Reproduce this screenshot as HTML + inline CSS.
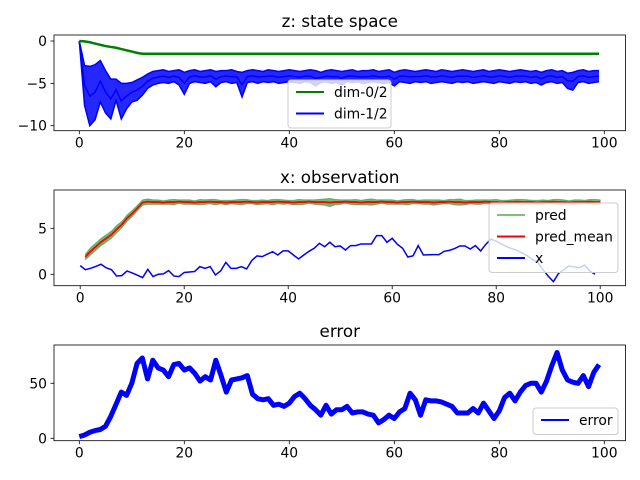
<!DOCTYPE html>
<html><head><meta charset="utf-8"><style>
html,body{margin:0;padding:0;background:#fff;}
svg{display:block;font-family:"DejaVu Sans","Liberation Sans",sans-serif;}
</style></head><body>
<svg id="fig" width="640" height="480" viewBox="0 0 640 480"></svg>
<script>
const xTicks=[0,20,40,60,80,100];
const p1YTicks=[0,-5,-10];
const p2YTicks=[0,5];
const p3YTicks=[0,50];
const dim0=[0,-0.05,-0.15,-0.3,-0.45,-0.6,-0.7,-0.8,-0.95,-1.1,-1.25,-1.4,-1.5,-1.5,-1.5,-1.5,-1.5,-1.5,-1.5,-1.5,-1.5,-1.5,-1.5,-1.5,-1.5,-1.5,-1.5,-1.5,-1.5,-1.5,-1.5,-1.5,-1.5,-1.5,-1.5,-1.5,-1.5,-1.5,-1.5,-1.5,-1.5,-1.5,-1.5,-1.5,-1.5,-1.5,-1.5,-1.5,-1.5,-1.5,-1.5,-1.5,-1.5,-1.5,-1.5,-1.5,-1.5,-1.5,-1.5,-1.5,-1.5,-1.5,-1.5,-1.5,-1.5,-1.5,-1.5,-1.5,-1.5,-1.5,-1.5,-1.5,-1.5,-1.5,-1.5,-1.5,-1.5,-1.5,-1.5,-1.5,-1.5,-1.5,-1.5,-1.5,-1.5,-1.5,-1.5,-1.5,-1.5,-1.5,-1.5,-1.5,-1.5,-1.5,-1.5,-1.5,-1.5,-1.5,-1.5,-1.5];
const dim1Upper=[0,-2.9,-3.0,-2.8,-2.3,-3.5,-4.5,-4.5,-5.0,-5.0,-4.9,-4.6,-4.3,-3.9,-3.6,-3.5,-3.4,-3.6,-3.5,-3.4,-3.7,-3.5,-3.4,-3.6,-3.5,-3.4,-3.6,-3.5,-3.5,-3.4,-3.6,-3.7,-3.5,-3.4,-3.5,-3.6,-3.4,-3.5,-3.6,-3.5,-3.4,-3.5,-3.6,-3.5,-3.4,-3.5,-3.7,-3.5,-3.4,-3.5,-3.6,-3.5,-3.4,-3.6,-3.5,-3.5,-3.4,-3.6,-3.5,-3.4,-3.7,-3.5,-3.4,-3.5,-3.6,-3.5,-3.4,-3.5,-3.6,-3.4,-3.5,-3.6,-3.5,-3.4,-3.5,-3.6,-3.5,-3.4,-3.6,-3.5,-3.4,-3.5,-3.6,-3.5,-3.4,-3.5,-3.6,-3.5,-3.7,-3.5,-3.4,-3.6,-3.5,-3.8,-3.7,-3.5,-3.4,-3.6,-3.5,-3.5];
const dim1Lower=[0,-7.6,-10,-9.3,-7.2,-8.5,-9.2,-7.0,-9.2,-8.0,-7.2,-7.0,-6.4,-5.6,-5.2,-5.0,-4.9,-5.0,-4.8,-5.2,-6.3,-5.0,-4.8,-4.9,-5.0,-4.8,-5.4,-4.9,-4.8,-5.0,-4.9,-6.6,-4.9,-4.8,-5.0,-4.8,-4.9,-4.8,-5.0,-4.9,-4.8,-4.9,-5.0,-4.8,-4.9,-5.3,-4.9,-4.8,-5.0,-4.9,-5.2,-4.8,-4.9,-4.8,-5.0,-4.9,-4.8,-4.9,-5.0,-4.9,-5.3,-4.8,-4.9,-5.0,-4.8,-4.9,-4.8,-5.0,-4.9,-4.8,-4.9,-5.0,-4.8,-4.9,-4.8,-5.0,-4.9,-4.8,-4.9,-5.0,-4.8,-4.9,-5.0,-4.8,-4.9,-4.8,-5.0,-4.9,-5.2,-4.9,-4.8,-5.0,-4.9,-5.6,-5.8,-4.9,-4.8,-5.0,-4.9,-4.8];
const xObs=[0.94,0.5,0.65,0.85,1.09,0.7,0.5,-0.18,-0.14,0.36,0.15,-0.1,-0.36,0.54,-0.25,0.0,0.04,0.4,-0.18,-0.25,0.2,0.25,0.3,0.83,0.65,0.83,-0.07,0.36,1.3,0.65,0.65,0.83,0.58,1.5,2.0,1.92,2.2,2.46,2.1,2.54,2.54,2.1,1.67,2.1,2.5,2.83,3.37,3.0,3.48,3.0,3.08,2.64,3.12,3.12,3.3,3.3,3.3,4.2,4.2,3.48,3.91,3.26,2.83,1.88,2.0,3.12,2.1,2.12,2.14,2.14,2.5,2.6,2.8,3.08,3.08,2.75,3.12,2.54,3.26,3.84,3.6,3.3,3.0,2.8,2.6,2.3,2.0,1.6,1.3,0.5,-0.2,-0.8,0.1,0.5,0.9,0.8,0.72,1.0,0.36,0.0];
const predMean=[1.9,2.5,3.0,3.5,3.9,4.3,4.9,5.4,6.1,6.6,7.2,7.8,7.9,7.85,7.85,7.8,7.85,7.85,7.9,7.85,7.85,7.8,7.85,7.85,7.9,7.85,7.85,7.8,7.85,7.85,7.85,7.9,7.85,7.8,7.85,7.85,7.85,7.9,7.85,7.85,7.8,7.85,7.85,7.9,7.85,7.85,7.85,7.8,7.85,7.85,7.9,7.85,7.85,7.8,7.85,7.85,7.85,7.9,7.85,7.85,7.8,7.85,7.85,7.9,7.85,7.85,7.85,7.8,7.85,7.85,7.9,7.85,7.85,7.8,7.85,7.85,7.85,7.9,7.85,7.85,7.8,7.85,7.85,7.9,7.85,7.85,7.85,7.8,7.85,7.85,7.9,7.85,7.85,7.8,7.85,7.85,7.85,7.9,7.85,7.85];
const predSpread=[0.3,0.4,0.4,0.4,0.4,0.4,0.4,0.35,0.35,0.35,0.3,0.3,0.3,0.25,0.25,0.2,0.25,0.3,0.2,0.25,0.25,0.2,0.3,0.25,0.25,0.3,0.2,0.25,0.2,0.25,0.3,0.25,0.2,0.25,0.25,0.2,0.3,0.25,0.25,0.2,0.25,0.3,0.25,0.2,0.25,0.3,0.35,0.45,0.3,0.25,0.2,0.25,0.3,0.25,0.3,0.35,0.25,0.2,0.25,0.25,0.2,0.25,0.3,0.25,0.2,0.25,0.25,0.3,0.25,0.2,0.25,0.3,0.35,0.25,0.2,0.25,0.25,0.2,0.25,0.3,0.25,0.2,0.25,0.25,0.3,0.25,0.2,0.25,0.25,0.2,0.25,0.3,0.25,0.2,0.25,0.25,0.2,0.25,0.3,0.25];
const errorVals=[1.5,3,5.5,7,8,11,20,31,42,39,50,68,73,54,71,64,62,56,67,68,62,64,59,52,56,53,71,57,42,53,54,55,57,40,36,35,36,30,31,29,32,38,41,36,30,26,21,30,22,26,26,29,23,24,24,22,21,14,17,21,18,24,27,41,35,21,35,34,34,33,31,29,23,23,23,27,23,32,25,18,25,37,41,34,42,48,50,50,42,52,66,78,62,53,51,50,57,47,60,67];

const NS="http://www.w3.org/2000/svg";
const svg=document.getElementById('fig');
function mk(tag,attrs,parent){const e=document.createElementNS(NS,tag);for(const k in attrs)e.setAttribute(k,attrs[k]);(parent||svg).appendChild(e);return e;}
const L=54,R=625.5;
const panels=[
 {top:35,bot:130.7,x0:79.3,xs:5.25,yf:v=>41-8.47*v,yt:p1YTicks,title:'z: state space',tb:27,name:'state-space'},
 {top:190,bot:285.7,x0:80.2,xs:5.2,yf:v=>274.3-9.2*v,yt:p2YTicks,title:'x: observation',tb:183,name:'observation'},
 {top:345,bot:440.7,x0:79.3,xs:5.25,yf:v=>438.3-1.1*v,yt:p3YTicks,title:'error',tb:337,name:'error'}];
function pathFrom(arr,P,off){return arr.map((v,i)=>(i?'L':'M')+(P.x0+P.xs*(i+off)).toFixed(2)+','+P.yf(v).toFixed(2)).join('');}
function bandFrom(lo,hi,P,off){let d=pathFrom(hi,P,off);for(let i=lo.length-1;i>=0;i--)d+='L'+(P.x0+P.xs*(i+off)).toFixed(2)+','+P.yf(lo[i]).toFixed(2);return d+'Z';}
panels.forEach((P,pi)=>{
 const g=mk('g',{});
 
 
 const clipId='c'+pi;const cp=mk('clipPath',{id:clipId},g);mk('rect',{x:L,y:P.top,width:R-L,height:P.bot-P.top},cp);
 const dg=mk('g',{'clip-path':'url(#'+clipId+')'},g);
 if(pi===0){
  const b=mk('path',{d:bandFrom(dim1Lower,dim1Upper,P,0),fill:'#0000ff','fill-opacity':'0.85',stroke:'none'},dg);
  
  [dim1Upper,dim1Lower].forEach(a=>{const l=mk('path',{d:pathFrom(a,P,0),fill:'none',stroke:'#0000ff','stroke-width':1.5},dg);});
  const mid=dim1Upper.map((v,i)=>(v+dim1Lower[i])/2);
  const m=mk('path',{d:pathFrom(mid,P,0),fill:'none',stroke:'#0000ff','stroke-width':1.5},dg);
  const d0=mk('path',{d:pathFrom(dim0,P,0),fill:'none',stroke:'#008000','stroke-width':2.5},dg);
  
 } else if(pi===1){
  const lo=predMean.map((v,i)=>v-predSpread[i]),hi=predMean.map((v,i)=>v+predSpread[i]);
  const b=mk('path',{d:bandFrom(lo,hi,P,1),fill:'#008000','fill-opacity':'0.55',stroke:'#008000','stroke-opacity':'0.4','stroke-width':1},dg);
  
  const pm=mk('path',{d:pathFrom(predMean,P,1),fill:'none',stroke:'#ff0000','stroke-width':1.8},dg);
  
  const xl=mk('path',{d:pathFrom(xObs,P,0),fill:'none',stroke:'#0000ff','stroke-width':1.5},dg);
  
 } else {
  const e1=mk('path',{d:pathFrom(errorVals,P,0),fill:'none',stroke:'#0000ff','stroke-width':5,'stroke-linejoin':'round'},dg);
  
 }
 const fr=mk('rect',{x:L,y:P.top,width:R-L,height:P.bot-P.top,fill:'none',stroke:'#000','stroke-width':0.8},g);
 
 xTicks.forEach(t=>{const x=P.x0+P.xs*t;mk('line',{x1:x,x2:x,y1:P.bot,y2:P.bot+3.5,stroke:'#000','stroke-width':0.8},g);
  const tx=mk('text',{x:x,y:P.bot+17,'font-size':13.9,'text-anchor':'middle',fill:'#000'},g);tx.textContent=t;
  });
 P.yt.forEach(v=>{const y=P.yf(v);mk('line',{x1:L-3.5,x2:L,y1:y,y2:y,stroke:'#000','stroke-width':0.8},g);
  const tx=mk('text',{x:L-7,y:y+5,'font-size':13.9,'text-anchor':'end',fill:'#000'},g);tx.textContent=String(v).replace('-','\u2212');
  });
 const ti=mk('text',{x:(L+R)/2,y:P.tb,'font-size':16.7,'text-anchor':'middle',fill:'#000'},g);ti.textContent=P.title;
 
});
function legend(x,y,w,entries){
 const g=mk('g',{});
 
 
 mk('rect',{x:x,y:y,width:w,height:entries.length*21.5+5,rx:3,fill:'#fff','fill-opacity':0.8,stroke:'#ccc','stroke-width':1},g);
 entries.forEach((e,i)=>{const cy=y+12+i*21.5;
  const ln=mk('line',{x1:x+8,x2:x+36,y1:cy,y2:cy,stroke:e[1],'stroke-width':2,'stroke-opacity':e[2]||1},g);
  
  const t=mk('text',{x:x+46,y:cy+5,'font-size':13.9,fill:'#000'},g);t.textContent=e[0];
  });
}
legend(288,80,103,[['dim-0/2','#008000'],['dim-1/2','#0000ff']]);
legend(489,203,129,[['pred','#008000',0.5],['pred_mean','#ff0000'],['x','#0000ff']]);
legend(533,408,85,[['error','#0000ff']]);
</script>
</body></html>
